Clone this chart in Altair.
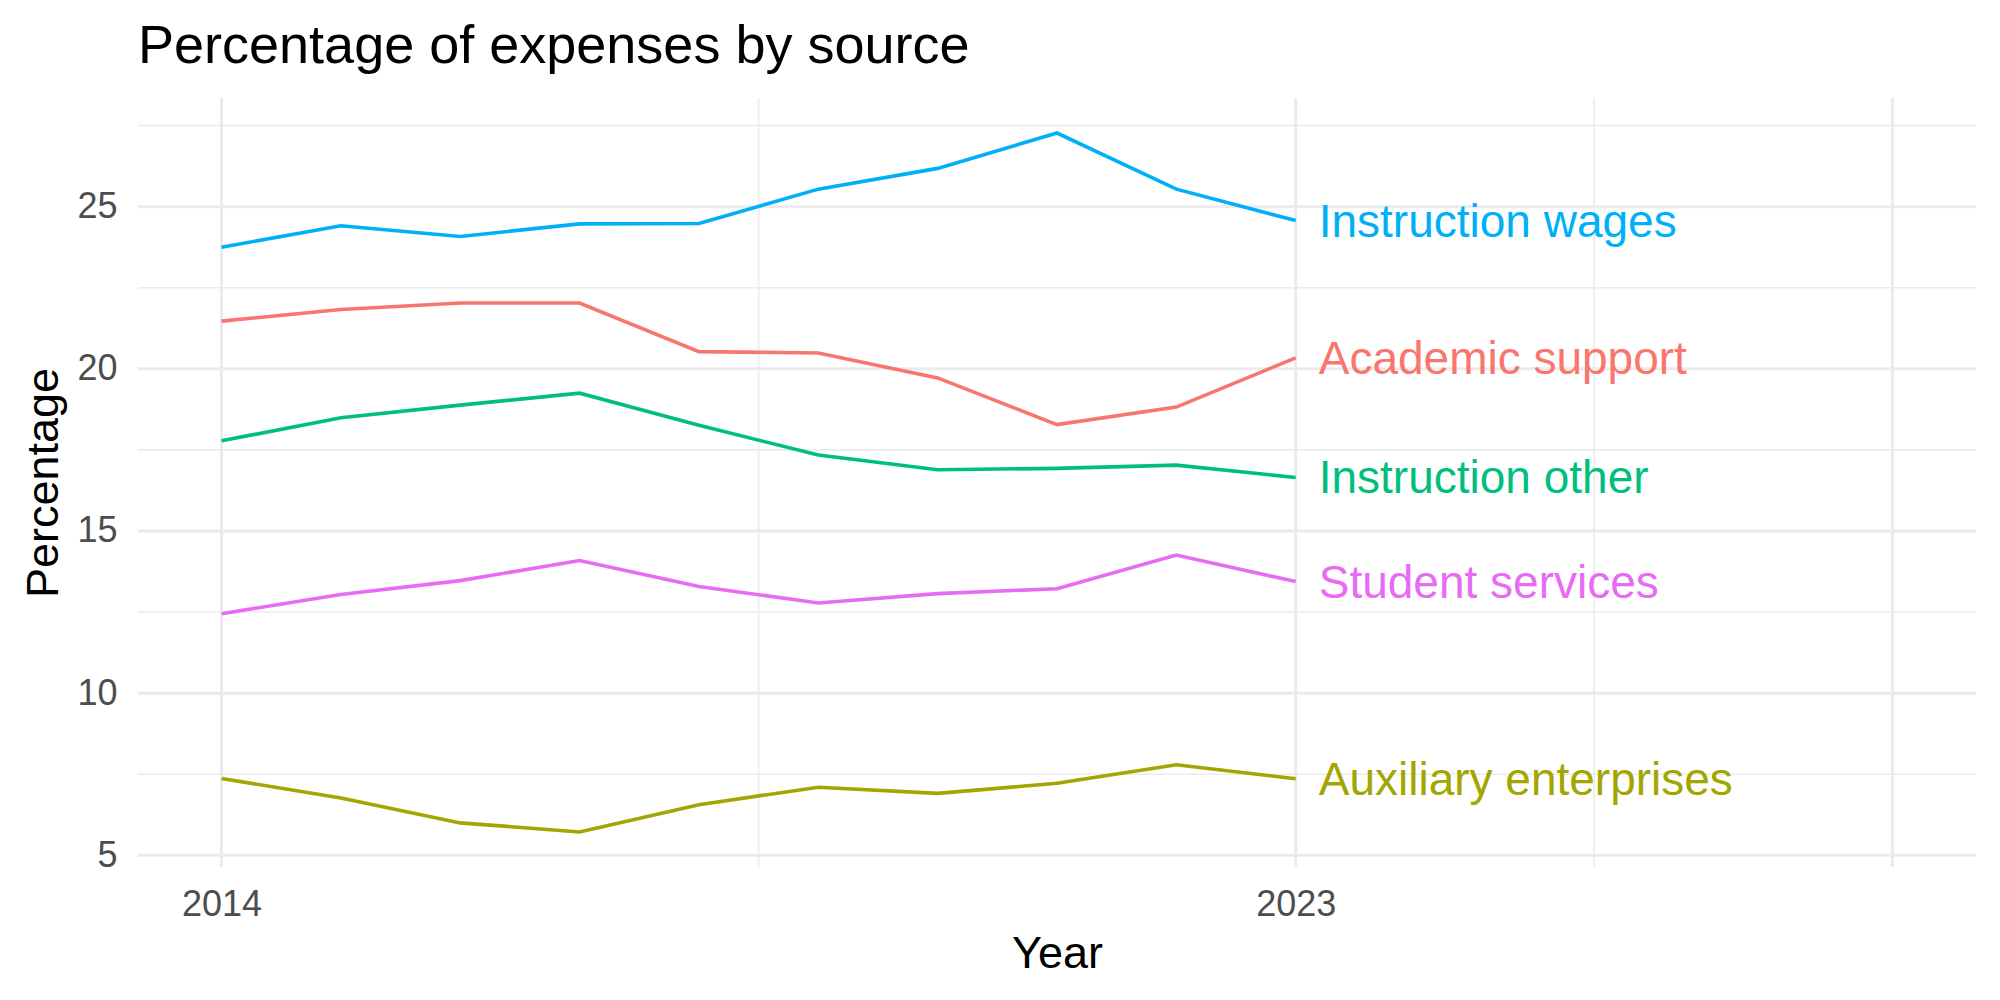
import altair as alt
import pandas as pd

years = [2014, 2015, 2016, 2017, 2018, 2019, 2020, 2021, 2022, 2023]
categories = ["Academic support", "Auxiliary enterprises", "Instruction other",
              "Instruction wages", "Student services"]
colors = ["#F8766D", "#A3A500", "#00BF7D", "#00B0F6", "#E76BF3"]

academic_support = [21.47, 21.83, 22.03, 22.03, 20.53, 20.49, 19.72, 18.28, 18.82, 20.34]
auxiliary_enterprises = [7.37, 6.77, 6.00, 5.72, 6.56, 7.10, 6.91, 7.22, 7.79, 7.36]
instruction_other = [17.78, 18.49, 18.88, 19.25, 18.26, 17.34, 16.89, 16.93, 17.03, 16.65]
instruction_wages = [23.75, 24.41, 24.08, 24.47, 24.48, 25.54, 26.18, 27.27, 25.54, 24.57]
student_services = [12.45, 13.04, 13.47, 14.09, 13.29, 12.78, 13.07, 13.22, 14.26, 13.44]

y_major = [5, 10, 15, 20, 25]
y_minor = [7.5, 12.5, 17.5, 22.5, 27.5]
x_major = [2014, 2023, 2028]
x_minor = [2018.5, 2025.5]
x_labels = [2014, 2023]

series = [academic_support, auxiliary_enterprises, instruction_other,
          instruction_wages, student_services]
rows = []
for cat, vals in zip(categories, series):
    for yr, v in zip(years, vals):
        rows.append({"Year": yr, "Percentage": v, "Source": cat})
df = pd.DataFrame(rows)
last = df[df["Year"] == max(years)]

FONT = "Liberation Sans"
W, H = 1838, 769

xs = alt.Scale(domain=[2013.3, 2028.7], nice=False, zero=False)
ys = alt.Scale(domain=[4.64, 28.35], nice=False, zero=False)
cs = alt.Scale(domain=categories, range=colors)

x_axis = alt.Axis(values=x_labels, format="d", grid=False, domain=False,
                  ticks=False, tickSize=0, labelFontSize=36, labelColor="#4D4D4D",
                  labelFont=FONT, labelPadding=48, labelBaseline="alphabetic",
                  titleFont=FONT, titleFontSize=45, titleFontWeight="normal",
                  titleColor="black", titleBaseline="alphabetic",
                  titleX=W / 2, titleY=100, titleAnchor="middle")
y_axis = alt.Axis(values=y_major, grid=False, domain=False, ticks=False,
                  tickSize=0, labelFontSize=36, labelColor="#4D4D4D",
                  labelFont=FONT, labelPadding=21,
                  titleFont=FONT, titleFontSize=45, titleFontWeight="normal",
                  titleColor="black", titleBaseline="alphabetic",
                  titleX=-81, titleY=H / 2, titleAngle=-90, titleAnchor="middle")

X_T = "Year"
Y_T = "Percentage"

gy_major = alt.Chart(pd.DataFrame({"v": y_major})).mark_rule(
    color="#EBEBEB", strokeWidth=3).encode(
    y=alt.Y("v:Q", scale=ys, axis=y_axis, title=Y_T))
gy_minor = alt.Chart(pd.DataFrame({"v": y_minor})).mark_rule(
    color="#EBEBEB", strokeWidth=1.6).encode(
    y=alt.Y("v:Q", scale=ys, axis=y_axis, title=Y_T))
gx_major = alt.Chart(pd.DataFrame({"v": x_major})).mark_rule(
    color="#EBEBEB", strokeWidth=3).encode(
    x=alt.X("v:Q", scale=xs, axis=x_axis, title=X_T))
gx_minor = alt.Chart(pd.DataFrame({"v": x_minor})).mark_rule(
    color="#EBEBEB", strokeWidth=1.6).encode(
    x=alt.X("v:Q", scale=xs, axis=x_axis, title=X_T))

lines = alt.Chart(df).mark_line(strokeWidth=3.6).encode(
    x=alt.X("Year:Q", scale=xs, axis=x_axis, title=X_T),
    y=alt.Y("Percentage:Q", scale=ys, axis=y_axis, title=Y_T),
    color=alt.Color("Source:N", scale=cs, legend=None),
    detail="Source:N",
)

labels = alt.Chart(last).mark_text(align="left", baseline="middle", dx=23, dy=2,
                                    fontSize=46, font=FONT).encode(
    x=alt.X("Year:Q", scale=xs, axis=x_axis, title=X_T),
    y=alt.Y("Percentage:Q", scale=ys, axis=y_axis, title=Y_T),
    text="Source:N",
    color=alt.Color("Source:N", scale=cs, legend=None),
)

chart = alt.layer(gy_minor, gx_minor, gy_major, gx_major, lines, labels).properties(
    width=W, height=H,
    title=alt.TitleParams(text="Percentage of expenses by source", anchor="start",
                          frame="group", fontSize=54, font=FONT, fontWeight="normal",
                          color="black", baseline="alphabetic", offset=-20),
    autosize=alt.AutoSizeParams(type="none"),
    padding={"left": 138, "top": 98, "right": 24, "bottom": 133},
    background="white",
).configure_view(stroke=None)

chart.save("out.html", embed_options={"renderer": "svg", "actions": False})
